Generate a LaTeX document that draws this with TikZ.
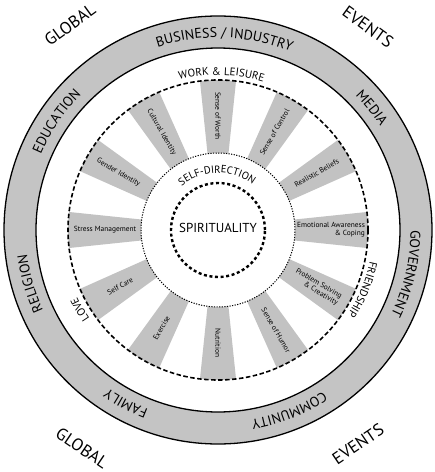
\documentclass[tikz,border=0pt]{standalone}
\usepackage{fontspec}
\setmainfont{PT Sans}
\setsansfont{PT Sans}
\usetikzlibrary{decorations.text}
\definecolor{ringgray}{gray}{0.77}
\definecolor{spokegray}{gray}{0.76}
\newcommand\myringfont{\fontsize{14}{15}\selectfont}
\newcommand\myinnerfont{\fontsize{11}{12}\selectfont}
\newcommand\myselffont{\fontsize{10.5}{11}\selectfont}
\begin{document}
\begin{tikzpicture}[x=1pt,y=1pt,
  spoketext/.style={font=\fontsize{7.4}{7.9}\selectfont, inner sep=0pt},
  bigword/.style={font=\fontsize{17}{18}\selectfont, inner sep=0pt},
  ringline/.style={line width=1.3pt},
  outerdash/.style={line width=1.6pt, dash pattern=on 4.5pt off 2.5pt},
  innerdot/.style={line width=1pt, dash pattern=on 1.2pt off 1.4pt},
  spiritdot/.style={line width=2.4pt, dash pattern=on 3pt off 2.6pt}]
\useasboundingbox (-218,-242) rectangle (217,230);
% ring
\fill[ringgray, even odd rule] (0,0) circle[radius=214] (0,0) circle[radius=182];
\draw[ringline] (0,0) circle[radius=214];
\draw[ringline] (0,0) circle[radius=182];
% spokes
\foreach \a in {0,30,...,330} {
  \fill[spokegray] (\a-7.8:77) -- (\a-6.9:150)
     arc[start angle=\a-6.9, end angle=\a+6.9, radius=150]
     -- (\a+7.8:77) arc[start angle=\a+7.8, end angle=\a-7.8, radius=77] -- cycle;
}
% circles
\draw[outerdash] (0,0) circle[radius=150];
\draw[innerdot] (0,0) circle[radius=77];
\draw[spiritdot] (0,0) circle[radius=47];
% spoke labels
\node[spoketext, align=right, rotate=0]   (s0)   at (0:113)   {Emotional Awareness\\\& Coping};
\node[spoketext, rotate=30]  (s30)  at (30:114)  {Realistic Beliefs};
\node[spoketext, rotate=60]  (s60)  at (60:113)  {Sense of Control};
\node[spoketext, rotate=-90] (s90)  at (90:114)  {Sense of Worth};
\node[spoketext, rotate=-60] (s120) at (120:113) {Cultural Identity};
\node[spoketext, rotate=-30] (s150) at (150:115) {Gender Identity};
\node[spoketext, rotate=0]   (s180) at (180:113) {Stress Management};
\node[spoketext, rotate=30]  (s210) at (210:113) {Self Care};
\node[spoketext, rotate=60]  (s240) at (240:113) {Exercise};
\node[spoketext, rotate=-90] (s270) at (270:113) {Nutrition};
\node[spoketext, rotate=-60] (s300) at (300:116) {Sense of Humor};
\node[spoketext, align=right, rotate=-30] (s330) at (330:114) {Problem Solving\\\& Creativity};
% centre
\node[font=\fontsize{13}{14}\selectfont, inner sep=0pt] (spirit) at (0,2) {SPIRITUALITY};
\path[decorate, decoration={text along path, text align=center,
  text={|\myselffont|SELF-DIRECTION}}] (151:57) arc[start angle=151, end angle=31, radius=57];
% ring labels (clockwise)
\path[decorate, decoration={text along path, text align=center,
  text={|\myringfont|BUSINESS / INDUSTRY}}] (148:192.5) arc[start angle=148, end angle=28, radius=192.5];
\path[decorate, decoration={text along path, text align=center,
  text={|\myringfont|MEDIA}}] (88.5:192.5) arc[start angle=88.5, end angle=-11.5, radius=192.5];
\path[decorate, decoration={text along path, text align=center,
  text={|\myringfont|GOVERNMENT}}] (47:192.5) arc[start angle=47, end angle=-73, radius=192.5];
\path[decorate, decoration={text along path, text align=center,
  text={|\myringfont|COMMUNITY}}] (-8.5:192.5) arc[start angle=-8.5, end angle=-128.5, radius=192.5];
\path[decorate, decoration={text along path, text align=center,
  text={|\myringfont|FAMILY}}] (-68:192.5) arc[start angle=-68, end angle=-168, radius=192.5];
\path[decorate, decoration={text along path, text align=center,
  text={|\myringfont|RELIGION}}] (-104:192.5) arc[start angle=-104, end angle=-224, radius=192.5];
\path[decorate, decoration={text along path, text align=center,
  text={|\myringfont|EDUCATION}}] (206:192.5) arc[start angle=206, end angle=86, radius=192.5];
% inner band labels
\path[decorate, decoration={text along path, text align=center,
  text={|\myinnerfont|WORK {\&} LEISURE}}] (148.7:155) arc[start angle=148.7, end angle=28.7, radius=155];
\path[decorate, decoration={text along path, text align=center,
  text={|\myinnerfont|FRIENDSHIP}}] (37.6:155) arc[start angle=37.6, end angle=-82.4, radius=155];
\path[decorate, decoration={text along path, text align=center,
  text={|\myinnerfont|LOVE}}] (-110:156) arc[start angle=-110, end angle=-190, radius=156];
% corner words
\node[bigword, rotate=36]  (g1) at (-148,205) {GLOBAL};
\node[bigword, rotate=-36] (e1) at (150,203)  {EVENTS};
\node[bigword, rotate=-34] (g2) at (-136,-218) {GLOBAL};
\node[bigword, rotate=34]  (e2) at (140,-214) {EVENTS};
\end{tikzpicture}
\end{document}
